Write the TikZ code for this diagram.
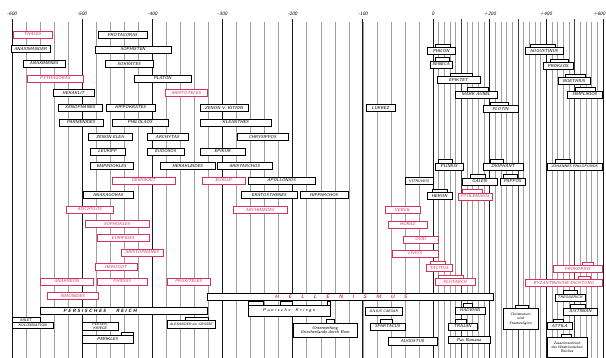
\documentclass[tikz,border=0pt]{standalone}
\definecolor{pr}{RGB}{212,52,92}
\newcommand\BX[6][]{\node[bx,#1,minimum width={(#4)-(#3)}] (#2) at ({((#3)+(#4))/2},#5) {#6};}
\newcommand\TB[4][]{\filldraw[tabs,#1] (#3,0 |- #2.north) -- ++(0,-3) -| (#4,0 |- #2.north);}
\newcommand\hs{\hspace{9.4pt}}
\newcommand\hp{\hspace{1.5pt}}
\begin{document}
\begin{tikzpicture}[x=1pt,y=-1pt,
  bx/.style={draw=black,line width=0.6pt,fill=white,inner sep=0pt,minimum height=7pt,
    align=center,font=\fontsize{4.3}{4.7}\selectfont\sffamily\itshape},
  sm/.style={font=\fontsize{3.7}{4.1}\selectfont\sffamily\itshape},
  rbx/.style={bx,draw=pr,text=pr},
  dbx/.style={bx,line width=1pt},
  tabs/.style={draw=black,line width=0.6pt,fill=white},
  rtabs/.style={draw=pr},
  lab/.style={font=\fontsize{5}{6}\selectfont\sffamily\itshape,inner sep=0pt},
  thinl/.style={gray!75,line width=0.45pt},
  thickl/.style={black!90,line width=0.9pt},
  medl/.style={black!75,line width=0.65pt}]
\useasboundingbox (0,0) rectangle (606,358);
\fill[white] (0,0) rectangle (606,358);
% grid
\foreach \yr in {-580,-560,...,-20} \draw[thinl] ({433+0.7017*\yr},22) -- ({433+0.7017*\yr},358);
\foreach \yr in {-600,-500,...,0} \draw[thickl] ({433+0.7017*\yr},19) -- ({433+0.7017*\yr},358);
\foreach \yr in {20,40,...,600} \draw[thinl,line width=0.4pt] ({433+0.2833*\yr},22) -- ({433+0.2833*\yr},358);
\foreach \yr in {100,300,500} \draw[medl] ({433+0.2833*\yr},19) -- ({433+0.2833*\yr},358);
\foreach \yr in {200,400,600} \draw[thickl] ({433+0.2833*\yr},19) -- ({433+0.2833*\yr},358);
% axis labels
\node[lab] (a1) at (12,14) {-600};
\node[lab] (a2) at (82,14) {-500};
\node[lab] (a3) at (152.5,14) {-400};
\node[lab] (a4) at (222.5,14) {-300};
\node[lab] (a5) at (292.5,14) {-200};
\node[lab] (a6) at (363,14) {-100};
\node[lab] (a7) at (433,14) {0};
\node[lab] (a8) at (490,14) {+200};
\node[lab] (a9) at (546,14) {+400};
\node[lab,anchor=east] (a10) at (605.5,14) {+600};
% BC left column
\BX[rbx]{thales}{13}{52}{34.5}{THALES}
\BX{anaximander}{11}{50}{49}{ANAXIMANDER}
\BX{anaximenes}{23}{65}{63.5}{ANAXIMENES}
\BX[rbx]{pythagoras}{27}{83}{78.5}{PYTHAGORAS}
\BX{heraklit}{53}{94}{93}{HERAKLIT}
\BX{xenophanes}{58}{102}{107.5}{XENOPHANES}
\BX{parmenides}{59}{103}{122.5}{PARMENIDES}
\BX{zenonelea}{88}{132}{137}{ZENON ELEA}
\BX{leukipp}{90}{125}{151.5}{LEUKIPP}
\BX{empedokles}{90}{133}{166}{EMPEDOKLES}
\BX[rbx]{demokrit}{112}{175}{180.5}{DEMOKRIT}
\BX{anaxagoras}{83}{133}{195}{ANAXAGORAS}
\BX[rbx]{aischylos}{66}{113}{209.5}{AISCHYLOS}
\BX[rbx]{sophokles}{85}{149}{224}{SOPHOKLES}
\BX[rbx]{euripides}{97}{149}{238}{EURIPIDES}
\BX[rbx]{aristophanes}{121}{163}{252.5}{ARISTOPHANES}
\BX[rbx]{herodot}{95}{137}{267}{HERODOT}
\BX[rbx]{anakreon}{40}{93}{281.5}{ANAKREON}
\BX[rbx]{phidias}{97}{147}{281.5}{PHIDIAS}
\BX[rbx]{praxiteles}{167}{210}{281.5}{PRAXITELES}
\BX[rbx]{simonides}{47}{98}{296}{SIMONIDES}
% middle
\BX{protagoras}{98}{147}{35}{PROTAGORAS}
\BX{sophisten}{95}{171}{49.5}{SOPHISTEN}
\BX{sokrates}{105}{153}{64}{SOKRATES}
\BX{platon}{134}{191}{78.5}{PLATON}
\BX[rbx]{aristoteles}{165}{207}{93}{ARISTOTELES}
\BX{hippokrates}{106}{155}{107.5}{HIPPOKRATES}
\BX{philolaos}{112}{168}{122.5}{PHILOLAOS}
\BX{archytas}{147}{188}{137}{ARCHYTAS}
\BX{eudoxos}{147}{184}{151.5}{EUDOXOS}
\BX{herakleides}{160}{215}{166}{HERAKLEIDES}
\BX{zenonkition}{200}{248}{108}{ZENON V. KITION}
\BX{kleanthes}{200}{271}{122.5}{KLEANTHES}
\BX{chrysippos}{237}{288}{137}{CHRYSIPPOS}
\BX{epikur}{200}{245}{151.5}{EPIKUR}
\BX{aristarchos}{217}{272}{166}{ARISTARCHOS}
\BX[rbx]{euklid}{202}{245}{180.5}{EUKLID}
\BX{apollonios}{248}{315}{180.5}{APOLLONIOS}
\BX{eratosthenes}{241}{297}{195}{ERATOSTHENES}
\BX{hipparchos}{300}{348}{195}{HIPPARCHOS}
\BX[rbx]{archimedes}{233}{287}{210}{ARCHIMEDES}
\BX[dbx]{lukrez}{366}{395}{108.5}{LUKREZ}
% AD philosophers
\BX{philon}{427}{455}{51}{PHILON}
\BX{seneca}{430}{452}{64.5}{SENECA}
\BX{epiktet}{437}{480}{80}{EPIKTET}
\BX{markaurel}{455}{497}{94.5}{MARK AUREL}
\BX{plotin}{483}{518}{109}{PLOTIN}
\BX{augustinus}{525}{563}{51}{AUGUSTINUS}
\BX{proklos}{543}{573}{66}{PROKLOS}
\BX{boethius}{558}{590}{81}{BOETHIUS}
\BX{simplikios}{567}{602}{94.5}{SIMPLIKIOS}
\TB{philon}{435}{450}
\TB{seneca}{435}{449}
\TB{epiktet}{450}{472}
\TB{markaurel}{467}{488}
\TB{plotin}{490}{508}
\TB{augustinus}{530}{555}
\TB{proklos}{550}{568}
\TB{boethius}{565}{585}
\TB{simplikios}{575}{595}
% AD scientists
\BX{plinius}{435}{463}{166.5}{PLINIUS}
\BX{diophant}{483}{523}{166.5}{DIOPHANT}
\BX[sm]{philoponos}{547}{602}{166.5}{JOHANNES PHILOPONOS}
\BX[dbx,sm]{vitruvius}{405}{433}{181}{VITRUVIUS}
\BX{galen}{462}{497}{181.5}{GALEN}
\BX{pappos}{500}{525}{181.5}{PAPPOS}
\BX{heron}{427}{452}{196}{HERON}
\BX[rbx]{ptolemaios}{458}{492}{196.5}{PTOLEMAIOS}
\TB{plinius}{438}{452}
\TB{diophant}{490}{503}
\TB{philoponos}{555}{570}
\TB{galen}{470}{485}
\TB{pappos}{503}{517}
\TB{heron}{432}{447}
\TB[rtabs]{ptolemaios}{462}{482}
% Roman writers
\BX[rbx]{vergil}{385}{420}{210}{VERGIL}
\BX[rbx]{horaz}{388}{427}{224.5}{HORAZ}
\BX[rbx]{ovid}{403}{438}{239.5}{OVID}
\BX[rbx]{livius}{392}{438}{253.5}{LIVIUS}
\BX[rbx]{tacitus}{426}{452}{268}{TACITUS}
\BX[rbx]{plutarch}{435}{475}{282}{PLUTARCH}
\TB[rtabs]{tacitus}{430}{445}
\TB[rtabs]{plutarch}{438}{463}
\BX[rbx]{prokop}{553}{602}{269}{PROKOPIOS}
\BX[rbx,line width=1pt]{nonnos}{525}{602}{283}{BYZANTINISCHE DICHTUNG}
\TB[rtabs]{prokop}{582}{593}
\TB[rtabs]{nonnos}{578}{590}
% epochs
\BX{hellen}{207}{493}{297}{}
\node[font=\fontsize{5.2}{6}\selectfont\sffamily\itshape\bfseries,text=pr,inner sep=0pt] (hellt) at (341,297)
  {H\hs E\hs L\hs L\hs E\hs N\hs I\hs S\hs M\hs U\hs S};
\BX{persien}{40}{207}{310.5}{}
\node[font=\fontsize{4.6}{5}\selectfont\sffamily\itshape\bfseries,inner sep=0pt] (perst) at (100,310.5)
  {P\hp E\hp R\hp S\hp I\hp S\hp C\hp H\hp E\hp S\hspace{10pt}R\hp E\hp I\hp C\hp H};
% history bottom
\BX[minimum height=6pt,sm]{milet}{12}{53}{325.5}{KOLONISATION}
\filldraw[tabs] (12,0 |- milet.north) -- ++(0,-5) -| (40,0 |- milet.north);
\node[font=\fontsize{3.7}{4}\selectfont\sffamily\itshape,inner sep=0pt] (milett) at (26,320) {MILET};
\BX[minimum height=8pt,sm]{perserkriege}{82}{118}{326}{PERSER-\\KRIEGE}
\BX[minimum height=8pt]{perikles}{82}{133}{339.5}{PERIKLES}
\filldraw[tabs] (121,0 |- perikles.north) -- ++(0,-3) -| (133,0 |- perikles.north);
\BX[minimum height=8pt,font=\fontsize{3.5}{4}\selectfont\sffamily\itshape]{alexander}{167}{215}{324.5}{ALEXANDER der GROSSE}
\TB{alexander}{185}{208}
\BX[minimum height=11pt]{punisch}{248}{330}{310.5}{P\hp u\hp n\hp i\hp s\hp c\hp h\hp e\hspace{5pt}K\hp r\hp i\hp e\hp g\hp e}
\TB{punisch}{248}{263}
\TB{punisch}{280}{292}
\TB{punisch}{327}{330}
\BX[minimum height=14pt]{unterwerfung}{293}{357}{330}{Unterwerfung\\Griechenlands durch Rom}
\TB{unterwerfung}{326}{334}
\BX[minimum height=8pt,sm]{caesar}{365}{402}{311}{JULIUS CAESAR}
\BX[minimum height=7pt]{spartacus}{370}{405}{326.5}{SPARTACUS}
\TB{spartacus}{380}{392}
\BX[minimum height=8pt]{augustus}{388}{437}{341}{AUGUSTUS}
\BX{hadrian}{455}{485}{310.5}{HADRIAN}
\TB{hadrian}{463}{472}
\BX{trajan}{448}{477}{326.5}{TRAJAN}
\TB{trajan}{455}{466}
\BX{pax}{448}{490}{340}{Pax Romana}
\BX[minimum height=21pt,sm]{christentum}{503}{538}{319}{Christentum\\wird\\Staatsreligion}
\TB{christentum}{515}{528}
\BX[sm]{theoderich}{555}{585}{297.5}{THEODERICH}
\TB{theoderich}{563}{577}
\BX{justinian}{563}{597}{311.5}{JUSTINIAN}
\TB{justinian}{570}{585}
\BX{attila}{547}{572}{326}{ATTILA}
\TB{attila}{553}{563}
\BX[minimum height=20pt,sm]{zusammenbruch}{547}{587}{347.5}{Zusammenbruch\\des Weströmischen\\Reiches}
\TB{zusammenbruch}{561}{571}
\end{tikzpicture}
\end{document}
